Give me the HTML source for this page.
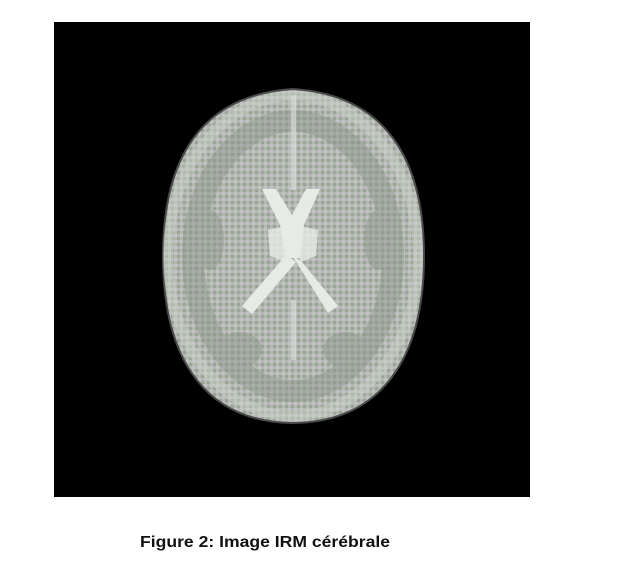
<!DOCTYPE html>
<html><head><meta charset="utf-8"><style>
html,body{margin:0;padding:0;background:#fff;width:631px;height:565px;overflow:hidden}
</style></head><body>
<svg width="631" height="565" viewBox="0 0 631 565">
<defs>
<pattern id="px" width="6" height="6" patternUnits="userSpaceOnUse">
<rect width="6" height="6" fill="#b2bab0"/>
<rect x="0" y="0" width="3" height="3" fill="#c6c0c8"/>
<rect x="3" y="3" width="3" height="3" fill="#9aa498"/>
</pattern>
<clipPath id="brainclip"><path d="M163 256 C163 160 200 95 293 89 C386 95 424 160 424 256 C424 360 380 422 293 423 C206 422 163 360 163 256 Z"/></clipPath>
</defs>
<rect x="54" y="22" width="476" height="475" fill="#000"/>
<g>
<path d="M163 256 C163 160 200 95 293 89 C386 95 424 160 424 256 C424 360 380 422 293 423 C206 422 163 360 163 256 Z" fill="url(#px)" stroke="#4a4a4a" stroke-width="2"/>
<g clip-path="url(#brainclip)" opacity="0.45">
<ellipse cx="293" cy="256" rx="100" ry="135" fill="none" stroke="#8a9488" stroke-width="22"/>
<ellipse cx="293" cy="256" rx="125" ry="160" fill="none" stroke="#cdd5cc" stroke-width="10"/>
<ellipse cx="210" cy="240" rx="14" ry="30" fill="#8a9488"/>
<ellipse cx="378" cy="240" rx="14" ry="30" fill="#8a9488"/>
<ellipse cx="240" cy="350" rx="22" ry="18" fill="#8a9488"/>
<ellipse cx="345" cy="350" rx="22" ry="18" fill="#8a9488"/>
</g>
<g fill="#e6ebe6">
<path d="M262 189 L276 189 L292 215 L306 189 L320 189 L304 225 L300 258 L286 258 L280 225 Z"/>
<path d="M268 230 L286 226 L286 262 L270 256 Z" opacity="0.8"/>
<path d="M300 226 L318 230 L316 256 L300 262 Z" opacity="0.8"/>
<path d="M286 255 L296 262 L252 314 L242 306 Z"/>
<path d="M292 255 L302 262 L338 306 L328 313 Z"/>
</g>
<rect x="291" y="95" width="5" height="95" fill="#d8dcd8" opacity="0.7"/>
<rect x="291" y="300" width="5" height="60" fill="#d8dcd8" opacity="0.7"/>
</g>
<text x="265" y="547" text-anchor="middle" font-family="Liberation Sans, sans-serif" font-weight="bold" font-size="16" textLength="250" lengthAdjust="spacingAndGlyphs" fill="#111">Figure 2: Image IRM cérébrale</text>
</svg>
</body></html>
